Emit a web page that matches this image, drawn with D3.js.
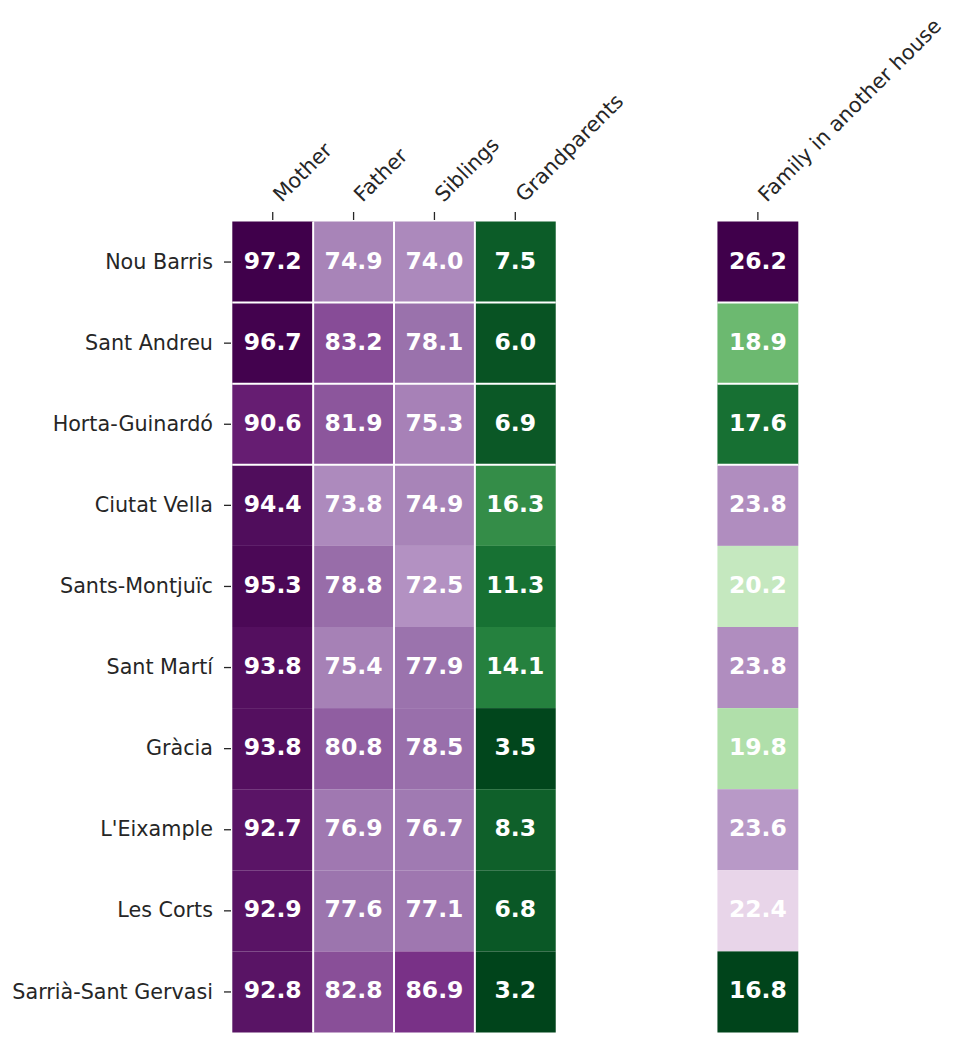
<!DOCTYPE html>
<html>
<head>
<meta charset="utf-8">
<script src="https://cdn.jsdelivr.net/npm/d3@7"></script>
<style>
  html, body { margin: 0; padding: 0; background: #ffffff; }
  svg { display: block; font-family: "DejaVu Sans", sans-serif; }
</style>
</head>
<body>
<svg id="chart" width="960" height="1043"></svg>
<script>
// ---- data ----
const districts = ["Nou Barris", "Sant Andreu", "Horta-Guinardó", "Ciutat Vella", "Sants-Montjuïc",
  "Sant Martí", "Gràcia", "L'Eixample", "Les Corts", "Sarrià-Sant Gervasi"];
const columnLabels = ["Mother", "Father", "Siblings", "Grandparents", "", "", "Family in another house"];
const mother = [97.2, 96.7, 90.6, 94.4, 95.3, 93.8, 93.8, 92.7, 92.9, 92.8];
const father = [74.9, 83.2, 81.9, 73.8, 78.8, 75.4, 80.8, 76.9, 77.6, 82.8];
const siblings = [74.0, 78.1, 75.3, 74.9, 72.5, 77.9, 78.5, 76.7, 77.1, 86.9];
const grandparents = [7.5, 6.0, 6.9, 16.3, 11.3, 14.1, 3.5, 8.3, 6.8, 3.2];
const familyOther = [26.2, 18.9, 17.6, 23.8, 20.2, 23.8, 19.8, 23.6, 22.4, 16.8];

// PRGn (ColorBrewer, 11 classes) - reversed so high = purple
const prgn = ["#40004b", "#762a83", "#9970ab", "#c2a5cf", "#e7d4e8", "#f7f7f7",
  "#d9f0d3", "#a6dba0", "#5aae61", "#1b7837", "#00441b"];

const svg = d3.select("#chart");

const x = d3.scaleBand().domain(d3.range(columnLabels.length)).range([232.3, 798.3]).padding(0);
const y = d3.scaleBand().domain(districts).range([221.5, 1032.5]).padding(0);

const ramp = d3.scaleLinear().domain(d3.range(11).map(i => i / 10)).range(prgn.slice().reverse()).interpolate(d3.interpolateRgb).clamp(true);

const leftSeries = [mother, father, siblings, grandparents];
const leftAll = leftSeries.flat();
const leftNorm = d3.scaleLinear().domain([d3.min(leftAll), d3.max(leftAll)]);
const rightNorm = d3.scaleLinear().domain([d3.min(familyOther), d3.max(familyOther)]);

const cells = [];
leftSeries.forEach((arr, ci) => arr.forEach((v, ri) => cells.push({col: ci, row: districts[ri], v, color: ramp(leftNorm(v))})));
familyOther.forEach((v, ri) => cells.push({col: 6, row: districts[ri], v, color: ramp(rightNorm(v))}));

const g = svg.append("g");
g.selectAll("rect.cell").data(cells).join("rect")
  .attr("class", "cell")
  .attr("x", d => x(d.col))
  .attr("y", d => y(d.row))
  .attr("width", x.bandwidth())
  .attr("height", y.bandwidth())
  .attr("fill", d => d.color);

// white separators (vertical between adjacent columns, horizontal after first three rows)
const vSep = [1, 2, 3];
g.selectAll("line.vsep").data(vSep).join("line")
  .attr("x1", d => x(d)).attr("x2", d => x(d))
  .attr("y1", y.range()[0]).attr("y2", y.range()[1])
  .attr("stroke", "#ffffff").attr("stroke-width", 2);
const hSep = districts.slice(1, 4);
const blocks = [[0, 3], [6, 6]];
blocks.forEach(([a, b]) => {
  g.selectAll(null).data(hSep).join("line")
    .attr("x1", x(a)).attr("x2", x(b) + x.bandwidth())
    .attr("y1", d => y(d)).attr("y2", d => y(d))
    .attr("stroke", "#ffffff").attr("stroke-width", 2);
});

g.selectAll("text.val").data(cells).join("text")
  .attr("class", "val")
  .attr("x", d => x(d.col) + x.bandwidth() / 2)
  .attr("y", d => y(d.row) + y.bandwidth() / 2 - 1.5)
  .attr("text-anchor", "middle")
  .attr("dominant-baseline", "central")
  .attr("fill", "#ffffff")
  .attr("font-weight", "bold")
  .attr("font-size", "23.5px")
  .text(d => d.v.toFixed(1));

// axes
const yAxis = d3.axisLeft(y).tickSize(7).tickPadding(11);
const yg = svg.append("g").attr("transform", "translate(231,0)").call(yAxis);
yg.select(".domain").remove();
yg.selectAll(".tick line").attr("stroke", "#262626").attr("stroke-width", 1.3);
yg.selectAll(".tick text").attr("fill", "#262626").attr("font-size", "20.7px").attr("font-family", "DejaVu Sans");

const xAxis = d3.axisTop(x).tickValues([0, 1, 2, 3, 6]).tickFormat(i => columnLabels[i]).tickSize(8);
const xg = svg.append("g").attr("transform", "translate(0,220)").call(xAxis);
xg.select(".domain").remove();
xg.selectAll(".tick line").attr("stroke", "#262626").attr("stroke-width", 1.3);
xg.selectAll(".tick text")
  .attr("fill", "#262626").attr("font-size", "20.7px").attr("font-family", "DejaVu Sans")
  .attr("text-anchor", "start")
  .attr("dy", null)
  .attr("y", 0)
  .attr("transform", "translate(9,-17) rotate(-45)");
</script>
</body>
</html>
